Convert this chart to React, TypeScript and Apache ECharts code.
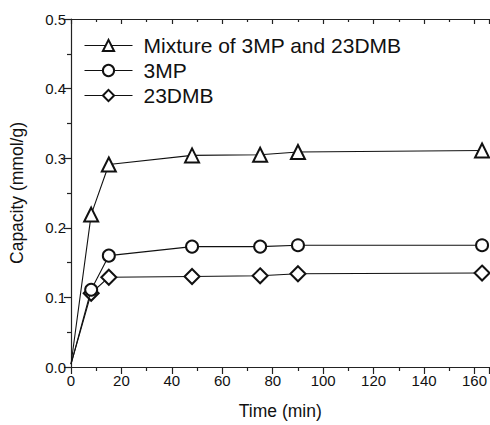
import React, { useEffect, useRef } from "react";
import * as echarts from "echarts";

const times = [0, 8, 15, 48, 75, 90, 163];
const mixture = [0.004, 0.219, 0.291, 0.304, 0.305, 0.309, 0.311];
const mp3 = [0.004, 0.111, 0.16, 0.173, 0.173, 0.175, 0.175];
const dmb = [0.004, 0.106, 0.129, 0.13, 0.131, 0.134, 0.135];
const seriesNames = ["Mixture of 3MP and 23DMB", "3MP", "23DMB"];
const symbols = ["emptyTriangle", "emptyCircle", "emptyDiamond"];
const symbolSizes = [14, 12, 15];

const FONT = "Liberation Sans, Arial, sans-serif";

export default function App() {
  const ref = useRef<HTMLDivElement>(null);
  useEffect(() => {
    if (!ref.current) return;
    const chart = echarts.init(ref.current, null, { renderer: "svg" });
    const values = [mixture, mp3, dmb];
    chart.setOption({
      animation: false,
      backgroundColor: "#fff",
      textStyle: { fontFamily: FONT },
      grid: { left: 71, right: 0, top: 19, bottom: 58, containLabel: false },
      legend: {
        orient: "vertical",
        left: 79,
        top: 30,
        itemWidth: 48,
        itemHeight: 14,
        itemGap: 4,
        data: seriesNames,
        lineStyle: { width: 1 },
        itemStyle: { borderWidth: 1 },
        textStyle: { fontFamily: FONT, fontSize: 21, color: "#111", padding: [0, 0, 0, 6] },
      },
      xAxis: [
        {
          type: "value",
          min: 0,
          max: 166,
          interval: 20,
          position: "bottom",
          name: "Time (min)",
          nameLocation: "middle",
          nameGap: 35,
          nameTextStyle: { fontFamily: FONT, fontSize: 17.5, color: "#111" },
          axisLine: { lineStyle: { color: "#222", width: 1.2 } },
          axisTick: { length: 7, lineStyle: { color: "#222", width: 1.2 } },
          minorTick: { show: true, splitNumber: 2, length: 4, lineStyle: { color: "#222", width: 1.2 } },
          axisLabel: { fontFamily: FONT, fontSize: 15, color: "#111", margin: 6, showMaxLabel: false },
          splitLine: { show: false },
        },
        {
          type: "value",
          min: 0,
          max: 166,
          interval: 20,
          position: "top",
          axisLine: { lineStyle: { color: "#222", width: 1.2 } },
          axisTick: { inside: true, length: 5, lineStyle: { color: "#222", width: 1.2 } },
          minorTick: { show: true, splitNumber: 2, length: 3, lineStyle: { color: "#222", width: 1.2 } },
          axisLabel: { show: false },
          splitLine: { show: false },
        },
      ],
      yAxis: {
        type: "value",
        min: 0,
        max: 0.5,
        interval: 0.1,
        name: "Capacity (mmol/g)",
        nameLocation: "middle",
        nameGap: 45,
        nameTextStyle: { fontFamily: FONT, fontSize: 17.5, color: "#111" },
        axisLine: { show: true, lineStyle: { color: "#222", width: 1.2 } },
        axisTick: { show: true, length: 7, lineStyle: { color: "#222", width: 1.2 } },
        minorTick: { show: true, splitNumber: 2, length: 4, lineStyle: { color: "#222", width: 1.2 } },
        axisLabel: {
          fontFamily: FONT,
          fontSize: 15,
          color: "#111",
          margin: 5,
          formatter: (v: number) => v.toFixed(1),
        },
        splitLine: { show: false },
      },
      series: seriesNames.map((name, i) => ({
        name,
        type: "line",
        xAxisIndex: 0,
        data: times.map((t, j) =>
          j === 0 ? { value: [t, values[i][j]], symbol: "none" } : [t, values[i][j]]
        ),
        symbol: symbols[i],
        symbolSize: symbolSizes[i],
        showAllSymbol: true,
        lineStyle: { color: "#111", width: 1.1 },
        itemStyle: { color: "#111", borderColor: "#111", borderWidth: 1.1 },
        emphasis: { disabled: true },
        z: 3 - i,
      })),
    });
    return () => chart.dispose();
  }, []);
  return <div ref={ref} style={{ width: 490, height: 425, position: "absolute", left: 0, top: 0 }} />;
}
